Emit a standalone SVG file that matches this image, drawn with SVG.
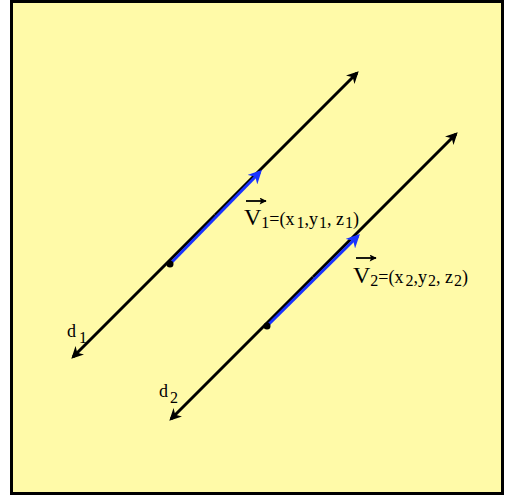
<svg xmlns="http://www.w3.org/2000/svg" width="505" height="497" viewBox="0 0 505 497">
<style>
.ln{stroke:#000;stroke-width:3;fill:none}
.bl{stroke:#1a33ff;stroke-width:3;fill:none}
text{font-family:"Liberation Serif",serif;fill:#000}
.big{font-size:24px}
.sm{font-size:18px}
.sub{font-size:16px}
</style>
<defs>
<marker id="ah" viewBox="0 0 10 10" refX="8" refY="5" markerWidth="4" markerHeight="4" orient="auto" markerUnits="strokeWidth">
<path d="M0,0 L10,5 L0,10 L3,5 Z" fill="#000"/>
</marker>
<marker id="ahb" viewBox="0 0 10 10" refX="8" refY="5" markerWidth="4.5" markerHeight="4.5" orient="auto" markerUnits="strokeWidth">
<path d="M0,0 L10,5 L0,10 L3,5 Z" fill="#1a33ff"/>
</marker>
<marker id="ahs" viewBox="0 0 10 10" refX="9" refY="5" markerWidth="9" markerHeight="7" orient="auto" markerUnits="userSpaceOnUse">
<path d="M0,0 L10,5 L0,10 L2,5 Z" fill="#000"/>
</marker>
</defs>
<rect x="11.5" y="1.5" width="491" height="492" fill="#fffaa8" stroke="#000" stroke-width="3"/>
<g id="connectors">
<line class="ln" x1="215" y1="215" x2="357" y2="73" marker-end="url(#ah)"/>
<line class="ln" x1="215" y1="215" x2="73" y2="357" marker-end="url(#ah)"/>
<line class="ln" x1="313" y1="277" x2="456" y2="134" marker-end="url(#ah)"/>
<line class="ln" x1="313" y1="277" x2="171" y2="419" marker-end="url(#ah)"/>
<line class="bl" x1="170" y1="264" x2="260" y2="172" marker-end="url(#ahb)"/>
<line class="bl" x1="267" y1="326" x2="358" y2="236" marker-end="url(#ahb)"/>
</g>
<g id="p1"><circle cx="170" cy="264" r="3.5" fill="#000"/></g>
<g id="p2"><circle cx="267" cy="326" r="3.5" fill="#000"/></g>
<g id="v1">
<line x1="246" y1="201" x2="266" y2="201" stroke="#000" stroke-width="1.8" marker-end="url(#ahs)"/>
<text x="244" y="225"><tspan class="big">V</tspan><tspan class="sub" dy="3">1</tspan><tspan class="sm" dy="-3">=(x</tspan><tspan class="sub" dx="2" dy="3">1</tspan><tspan class="sm" dy="-3">,y</tspan><tspan class="sub" dx="1" dy="3">1</tspan><tspan class="sm" dy="-3">, z</tspan><tspan class="sub" dx="1" dy="3">1</tspan><tspan class="sm" dy="-3">)</tspan></text>
</g>
<g id="v2">
<line x1="356" y1="258" x2="376" y2="258" stroke="#000" stroke-width="1.8" marker-end="url(#ahs)"/>
<text x="353" y="283"><tspan class="big">V</tspan><tspan class="sub" dy="3">2</tspan><tspan class="sm" dy="-3">=(x</tspan><tspan class="sub" dx="2" dy="3">2</tspan><tspan class="sm" dy="-3">,y</tspan><tspan class="sub" dx="1" dy="3">2</tspan><tspan class="sm" dy="-3">, z</tspan><tspan class="sub" dx="1" dy="3">2</tspan><tspan class="sm" dy="-3">)</tspan></text>
</g>
<g id="d1"><text x="67" y="337"><tspan class="sm">d</tspan><tspan class="sub" dx="3" dy="6">1</tspan></text></g>
<g id="d2"><text x="159" y="397"><tspan class="sm">d</tspan><tspan class="sub" dx="2" dy="6">2</tspan></text></g>
</svg>
